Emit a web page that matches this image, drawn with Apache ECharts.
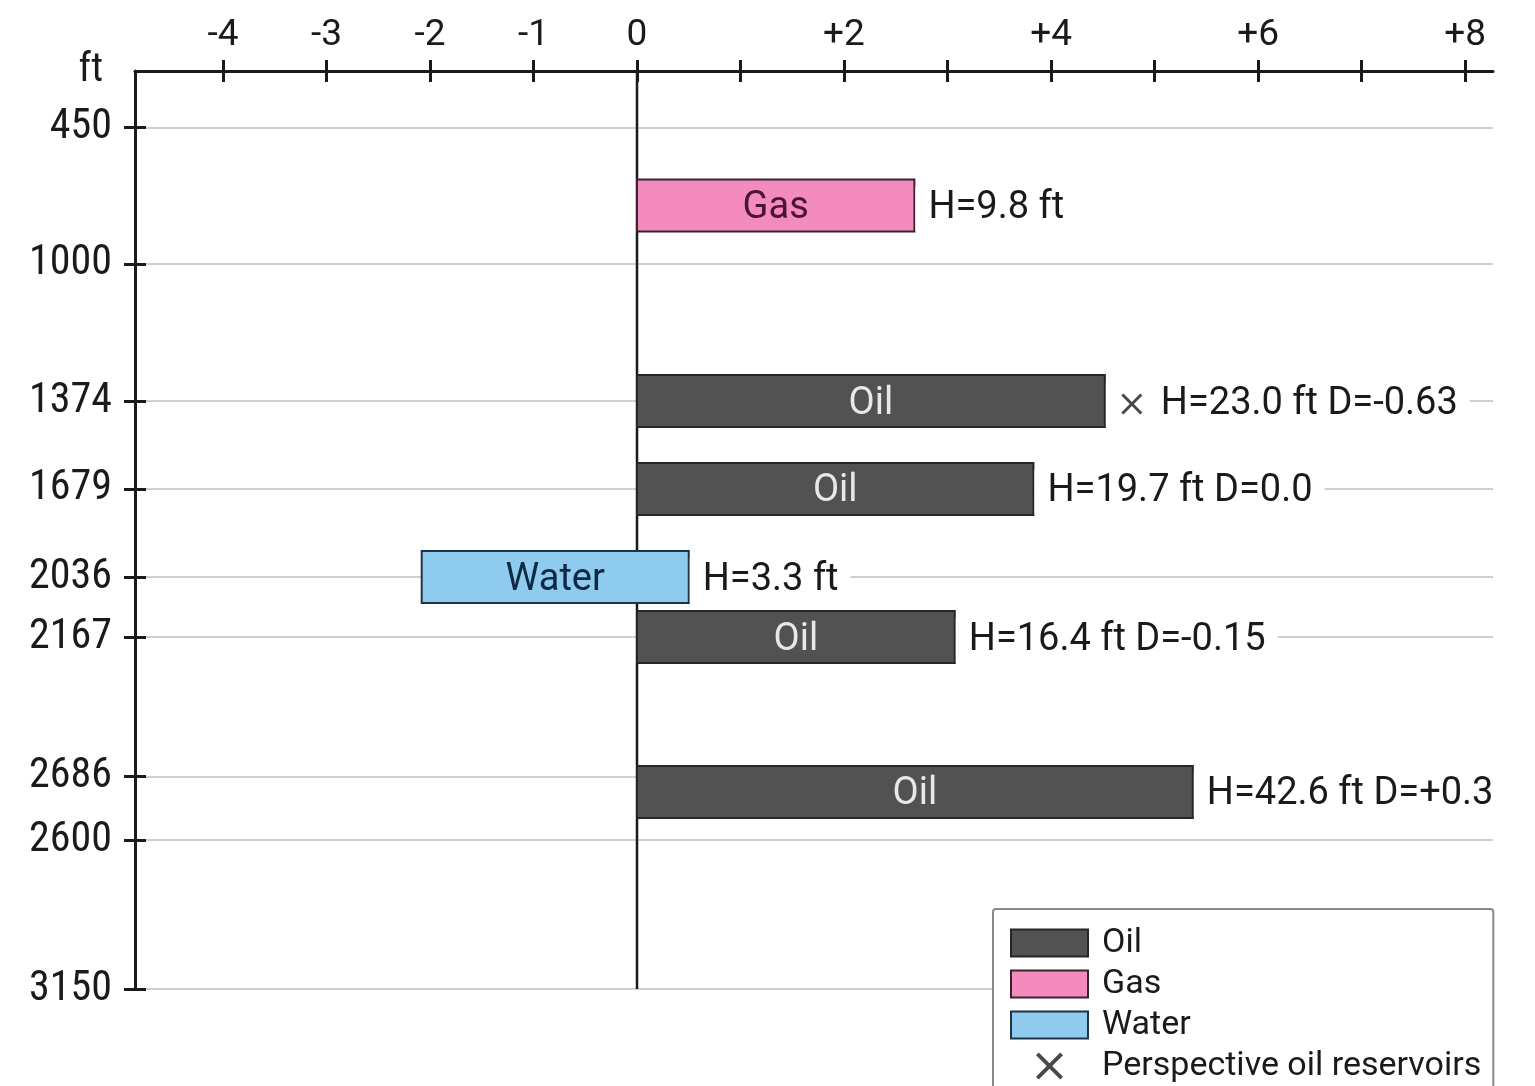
<!DOCTYPE html>
<html>
<head>
<meta charset="utf-8">
<script src="https://cdn.jsdelivr.net/npm/echarts@6/dist/echarts.min.js"></script>
<style>
  html, body { margin: 0; padding: 0; background: #ffffff; }
  #chart { width: 1535px; height: 1086px; }
</style>
</head>
<body>
<div id="chart"></div>
<script>
// ---------- data ----------
const depthLabels = ['450', '1000', '1374', '1679', '2036', '2167', '2686', '2600', '3150'];
const depthTrack  = [6.18, 21.02, 35.95, 45.53, 55.12, 61.66, 76.87, 83.77, 100];
const xTicks      = [-4, -3, -2, -1, 0, 1, 2, 3, 4, 5, 6, 7, 8];
const xTickLabels = [-4, -3, -2, -1, 0, 2, 4, 6, 8];

const layerType  = ['Gas', 'Oil', 'Oil', 'Water', 'Oil', 'Oil'];
const layerStart = [0, 0, 0, -2.08, 0, 0];
const layerEnd   = [2.68, 4.52, 3.83, 0.50, 3.07, 5.37];
const layerTrack = [14.65, 35.95, 45.53, 55.12, 61.66, 78.54];
const layerNote  = ['H=9.8 ft', 'H=23.0 ft D=-0.63', 'H=19.7 ft D=0.0', 'H=3.3 ft', 'H=16.4 ft D=-0.15', 'H=42.6 ft D=+0.3'];
const perspective = [false, true, false, false, false, false];

// ---------- styles ----------
const FONT = 'Roboto, "Noto Sans", sans-serif';
const NARROW = '"Liberation Sans Narrow", "Roboto Condensed", Roboto, sans-serif';
const INK = '#1a1a1a';
const typeStyle = {
  Oil:   { fill: '#525252', stroke: '#262626', text: '#e8e8e8' },
  Gas:   { fill: '#f38bbe', stroke: '#3a2230', text: '#4a1530' },
  Water: { fill: '#8ecbee', stroke: '#1f3346', text: '#0f2845' }
};
const BAR_PX = 52;
const XPATH = 'path://M2,0 L10,8 L18,0 L20,2 L12,10 L20,18 L18,20 L10,12 L2,20 L0,18 L8,10 L0,2 Z';

function findLabel(v) {
  for (let i = 0; i < depthTrack.length; i++) {
    if (Math.abs(depthTrack[i] - v) < 1e-6) return depthLabels[i];
  }
  return '';
}

function makeLayerSeries(t) {
  const data = [];
  layerType.forEach((ty, i) => {
    if (ty === t) data.push([layerStart[i], layerEnd[i], layerTrack[i], i]);
  });
  const st = typeStyle[t];
  return {
    name: t,
    type: 'custom',
    z: 3,
    encode: { x: [0, 1], y: 2 },
    itemStyle: { color: st.fill, borderColor: st.stroke, borderWidth: 2 },
    data: data,
    renderItem: function (params, api) {
      const s = api.value(0), e = api.value(1), p = api.value(2), idx = api.value(3);
      const a = api.coord([s, p]);
      const b = api.coord([e, p]);
      const persp = perspective[idx];
      return {
        type: 'group',
        children: [
          {
            type: 'rect',
            shape: { x: a[0], y: a[1] - BAR_PX / 2, width: b[0] - a[0], height: BAR_PX },
            style: { fill: st.fill, stroke: st.stroke, lineWidth: 2 },
            textContent: {
              style: { text: t, fill: st.text, fontSize: 38, fontFamily: FONT }
            },
            textConfig: { position: 'inside', offset: [0, 3] }
          },
          {
            type: 'text',
            x: b[0] + 1,
            y: b[1] + 3,
            style: {
              text: layerNote[idx],
              fill: INK,
              fontSize: 38,
              fontFamily: FONT,
              align: 'left',
              verticalAlign: 'middle',
              backgroundColor: '#ffffff',
              padding: [3, 12, 3, persp ? 55 : 13]
            }
          }
        ]
      };
    }
  };
}

const perspData = [];
perspective.forEach((f, i) => { if (f) perspData.push([layerEnd[i], layerTrack[i]]); });

const chart = echarts.init(document.getElementById('chart'), null, { renderer: 'canvas' });

const option = {
  backgroundColor: '#ffffff',
  animation: false,
  grid: { left: 135, top: 71, right: 42, bottom: 97, containLabel: false },
  xAxis: [
    {
      type: 'value', position: 'top', min: -4.85, max: 8.27,
      axisLine: { show: true, onZero: false, lineStyle: { color: INK, width: 3 } },
      axisTick: { show: true, customValues: xTicks, length: 11, lineStyle: { color: INK, width: 3 } },
      axisLabel: {
        customValues: xTickLabels, margin: 17, color: INK, fontSize: 37, fontFamily: FONT,
        formatter: v => (v > 0 ? '+' + v : String(v))
      },
      splitLine: { show: false }
    },
    {
      type: 'value', position: 'top', min: -4.85, max: 8.27,
      axisLine: { show: false, onZero: false },
      axisTick: { show: true, inside: true, customValues: xTicks, length: 11, lineStyle: { color: INK, width: 3 } },
      axisLabel: { show: false },
      splitLine: { show: false }
    }
  ],
  yAxis: [
    {
      type: 'value', inverse: true, min: 0, max: 100, position: 'left',
      name: 'ft', nameLocation: 'start', nameGap: 0,
      nameTextStyle: { color: INK, fontSize: 40, fontFamily: NARROW, align: 'right', verticalAlign: 'middle', padding: [0, 32, 8, 0] },
      axisLine: { show: true, onZero: false, lineStyle: { color: INK, width: 3 } },
      axisTick: { show: true, customValues: depthTrack, length: 11, lineStyle: { color: INK, width: 3 } },
      axisLabel: {
        customValues: depthTrack, margin: 23, color: INK, fontSize: 42, fontFamily: NARROW,
        padding: [10, 0, 0, 0],
        formatter: v => findLabel(v)
      },
      splitLine: { show: true, lineStyle: { color: '#cfcfcf', width: 2 } }
    },
    {
      type: 'value', inverse: true, min: 0, max: 100, position: 'left',
      axisLine: { show: false, onZero: false },
      axisTick: { show: true, inside: true, customValues: depthTrack, length: 11, lineStyle: { color: INK, width: 3 } },
      axisLabel: { show: false },
      splitLine: { show: false }
    }
  ],
  legend: {
    orient: 'vertical', left: 993, top: 909, height: 240,
    padding: [17, 12, 19, 17],
    itemWidth: 77, itemHeight: 27, itemGap: 7,
    backgroundColor: '#ffffff', borderColor: '#8a8a8a', borderWidth: 2, borderRadius: 3,
    textStyle: { color: INK, fontSize: 34, fontFamily: FONT, padding: [0, 0, 0, 9] },
    data: [
      { name: 'Oil', icon: 'rect', itemStyle: { color: typeStyle.Oil.fill, borderColor: typeStyle.Oil.stroke, borderWidth: 2 } },
      { name: 'Gas', icon: 'rect', itemStyle: { color: typeStyle.Gas.fill, borderColor: typeStyle.Gas.stroke, borderWidth: 2 } },
      { name: 'Water', icon: 'rect', itemStyle: { color: typeStyle.Water.fill, borderColor: typeStyle.Water.stroke, borderWidth: 2 } },
      { name: 'Perspective oil reservoirs', icon: XPATH, itemStyle: { color: INK, borderWidth: 0 } }
    ]
  },
  series: [
    {
      name: 'zero', type: 'line', z: 1, silent: true, symbol: 'none',
      lineStyle: { color: INK, width: 2.5 },
      data: [[0, 0], [0, 100]]
    },
    makeLayerSeries('Oil'),
    makeLayerSeries('Gas'),
    makeLayerSeries('Water'),
    {
      name: 'Perspective oil reservoirs', type: 'scatter', z: 6,
      symbol: XPATH, symbolSize: 21, symbolOffset: [27, 3], symbolKeepAspect: true,
      itemStyle: { color: INK },
      data: perspData
    }
  ]
};
chart.setOption(option);
</script>
</body>
</html>
